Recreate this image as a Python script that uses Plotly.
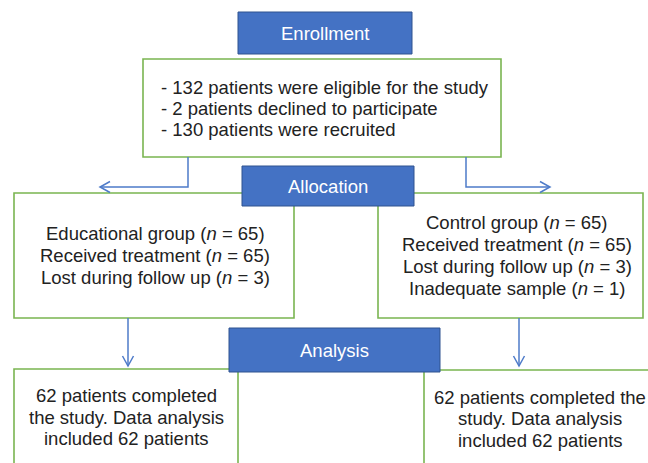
import plotly.graph_objects as go

# ---- text content (data) ----
stage_titles = ["Enrollment", "Allocation", "Analysis"]
enrollment_lines = [
    "- 132 patients were eligible for the study",
    "- 2 patients declined to participate",
    "- 130 patients were recruited",
]
educational_lines = [
    "Educational group (n = 65)",
    "Received treatment (n = 65)",
    "Lost during follow up (n = 3)",
]
control_lines = [
    "Control group (n = 65)",
    "Received treatment (n = 65)",
    "Lost during follow up (n = 3)",
    "Inadequate sample (n = 1)",
]
analysis_left_lines = [
    "62 patients completed",
    "the study. Data analysis",
    "included 62 patients",
]
analysis_right_lines = [
    "62 patients completed the",
    "study. Data analysis",
    "included 62 patients",
]

# ---- layout geometry (pixels, y downward) ----
W, H = 648, 463
BLUE_FILL = "#4472C4"
BLUE_EDGE = "#2F528F"
GREEN = "#7AB550"
ARROW = "#4E7BC9"
TEXT = "#222222"
FONT = "Liberation Sans, Arial, sans-serif"
FS = 18.5

title_boxes = [(238, 12, 412, 54), (242, 166, 414, 206), (229, 328, 440, 372)]
green_boxes = [
    (143, 59, 501, 157),   # enrollment
    (14, 193, 294, 318),   # educational
    (378, 193, 643, 318),  # control
    (14, 369, 238, 475),   # analysis left
    (424, 370, 660, 475),  # analysis right
]

fig = go.Figure()
shapes = []
for (x0, y0, x1, y1) in green_boxes:
    shapes.append(dict(type="rect", xref="x", yref="y", x0=x0, y0=y0, x1=x1, y1=y1,
                       line=dict(color=GREEN, width=1.6), fillcolor="white"))

# connectors
connector_paths = [
    "M188,157 L188,187 L100,187", "M110,181.5 L100,187 L110,192.5",
    "M466,157 L466,187 L550,187", "M540,181.5 L550,187 L540,192.5",
    "M128,318 L128,366", "M122.5,356 L128,366 L133.5,356",
    "M519,318 L519,366", "M513.5,356 L519,366 L524.5,356",
]
for p in connector_paths:
    shapes.append(dict(type="path", xref="x", yref="y", path=p,
                       line=dict(color=ARROW, width=1.5)))

for (x0, y0, x1, y1) in title_boxes:
    shapes.append(dict(type="rect", xref="x", yref="y", x0=x0, y0=y0, x1=x1, y1=y1,
                       line=dict(color=BLUE_EDGE, width=1), fillcolor=BLUE_FILL))

annotations = []


def fmt(s):
    return s.replace("(n =", "(<i>n</i> =")


def add_lines(lines, x, ys, xanchor):
    for s, y in zip(lines, ys):
        annotations.append(dict(x=x, y=y, xref="x", yref="y", text=fmt(s), showarrow=False,
                                xanchor=xanchor, yanchor="middle",
                                font=dict(family=FONT, size=FS, color=TEXT)))


for t, (x0, y0, x1, y1) in zip(stage_titles, title_boxes):
    annotations.append(dict(x=(x0 + x1) / 2, y=(y0 + y1) / 2, xref="x", yref="y", text=t,
                            showarrow=False, xanchor="center", yanchor="middle",
                            font=dict(family=FONT, size=FS, color="white")))

add_lines(enrollment_lines, 159, [87, 108, 129], "left")
add_lines(educational_lines, 155, [233, 255, 277], "center")
add_lines(control_lines, 517, [222, 244, 266, 288], "center")
add_lines(analysis_left_lines, 126, [395, 417, 438], "center")
add_lines(analysis_right_lines, 540, [397, 418, 440], "center")

fig.update_layout(
    width=W, height=H, margin=dict(l=0, r=0, t=0, b=0),
    paper_bgcolor="white", plot_bgcolor="white",
    xaxis=dict(range=[0, W], visible=False, fixedrange=True),
    yaxis=dict(range=[H, 0], visible=False, fixedrange=True),
    shapes=shapes, annotations=annotations, showlegend=False,
)
fig.write_html(
    "out.html",
    config={"displayModeBar": False},
    post_script="document.body.style.margin='0';document.body.style.overflow='hidden';",
)
